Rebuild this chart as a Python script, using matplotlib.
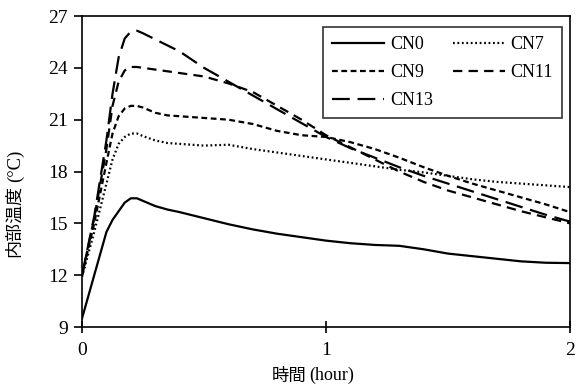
import matplotlib
matplotlib.use("Agg")
import matplotlib.pyplot as plt

hours = [0, 0.05, 0.1, 0.125, 0.15, 0.175, 0.2, 0.225, 0.25, 0.3, 0.35, 0.4,
         0.5, 0.6, 0.7, 0.8, 0.9, 1.0, 1.1, 1.2, 1.3, 1.4, 1.5, 1.6, 1.7, 1.8, 1.9, 2.0]
cn0 = [9.5, 12.0, 14.5, 15.2, 15.7, 16.2, 16.45, 16.45, 16.3, 16.0, 15.8, 15.65,
       15.3, 14.95, 14.65, 14.4, 14.2, 14.0, 13.85, 13.75, 13.7, 13.5, 13.25, 13.1, 12.95, 12.8, 12.72, 12.7]
cn7 = [11.9, 14.5, 17.3, 18.7, 19.6, 20.0, 20.2, 20.2, 20.05, 19.8, 19.65, 19.6,
       19.5, 19.55, 19.3, 19.1, 18.9, 18.7, 18.5, 18.3, 18.1, 17.95, 17.75, 17.55, 17.4, 17.3, 17.2, 17.1]
cn9 = [12.0, 15.0, 18.5, 20.2, 21.2, 21.65, 21.8, 21.8, 21.7, 21.4, 21.25, 21.2,
       21.1, 21.0, 20.75, 20.35, 20.1, 20.0, 19.7, 19.3, 18.8, 18.25, 17.75, 17.3, 16.9, 16.5, 16.1, 15.65]
cn11 = [12.0, 15.3, 19.3, 21.8, 23.2, 23.85, 24.05, 24.05, 24.0, 23.9, 23.8, 23.7,
        23.5, 23.1, 22.6, 21.8, 21.0, 20.1, 19.4, 18.7, 18.0, 17.4, 16.9, 16.5, 16.1, 15.7, 15.35, 15.0]
cn13 = [12.0, 15.4, 19.8, 22.5, 24.6, 25.7, 26.1, 26.15, 26.0, 25.65, 25.3, 24.95,
        24.0, 23.2, 22.4, 21.6, 20.8, 20.0, 19.35, 18.8, 18.25, 17.75, 17.3, 16.85, 16.4, 15.95, 15.5, 15.1]
labels = ["CN0", "CN7", "CN9", "CN11", "CN13"]
xticks = [0, 1, 2]
yticks = [9, 12, 15, 18, 21, 24, 27]

serif = "Liberation Serif"
cjk = "Noto Sans CJK JP"

fig = plt.figure(figsize=(5.83, 3.85), dpi=100)
ax = fig.add_axes([0.1407, 0.1506, 0.9777 - 0.1407, 0.9584 - 0.1506])

lw = 1.6
h0, = ax.plot(hours, cn0, color="black", lw=lw, label=labels[0])
h7, = ax.plot(hours, cn7, color="black", lw=lw, linestyle=(0, (0.8, 1.2)), label=labels[1])
h9, = ax.plot(hours, cn9, color="black", lw=lw, linestyle=(0, (2.6, 1.6)), label=labels[2])
h11, = ax.plot(hours, cn11, color="black", lw=lw, linestyle=(0, (4.2, 2.8)), label=labels[3])
h13, = ax.plot(hours, cn13, color="black", lw=lw, linestyle=(0, (8, 3.5)), label=labels[4])

ax.set_xlim(0, 2)
ax.set_ylim(9, 27)
ax.set_xticks(xticks)
ax.set_yticks(yticks)
ax.set_xticklabels([str(v) for v in xticks], fontfamily=serif, fontsize=14)
ax.set_yticklabels([str(v) for v in yticks], fontfamily=serif, fontsize=14)
ax.tick_params(axis="x", direction="inout", length=9, width=1.2, pad=6)
ax.tick_params(axis="y", direction="out", length=6, width=1.2, pad=4)
for s in ax.spines.values():
    s.set_linewidth(1.2)

# row-major order: CN0 CN7 / CN9 CN11 / CN13
order = [h0, h9, h13, h7, h11]
leg = ax.legend(order, [h.get_label() for h in order], ncol=2, loc="upper right",
                bbox_to_anchor=(0.9836, 0.9646),
                prop={"family": serif, "size": 13}, frameon=True, fancybox=False,
                edgecolor="black", handlelength=2.9, columnspacing=1.1,
                handletextpad=0.3, borderpad=0.5, labelspacing=0.62,
                borderaxespad=0.0)
leg.get_frame().set_linewidth(1.2)

# x label: CJK part + serif part
t1 = fig.text(272 / 583, 1 - 381 / 385, "時間", fontfamily=cjk, fontsize=12.5, ha="left",
              va="baseline")
ax.annotate("(hour)", xy=(1, 0), xycoords=t1, xytext=(2, 1), textcoords="offset points",
            fontfamily=serif, fontsize=13, ha="left", va="bottom", annotation_clip=False)

# y label
t2 = fig.text(14 / 583, 1 - 257 / 385, "内部温度", fontfamily=cjk, fontsize=13, rotation=90,
              ha="center", va="bottom")
ax.annotate("(°C)", xy=(0.5, 1), xycoords=t2, xytext=(1, 2), textcoords="offset points",
            fontfamily=serif, fontsize=13.5, rotation=90, ha="center", va="bottom",
            annotation_clip=False)

fig.savefig("out.png", dpi=100)
